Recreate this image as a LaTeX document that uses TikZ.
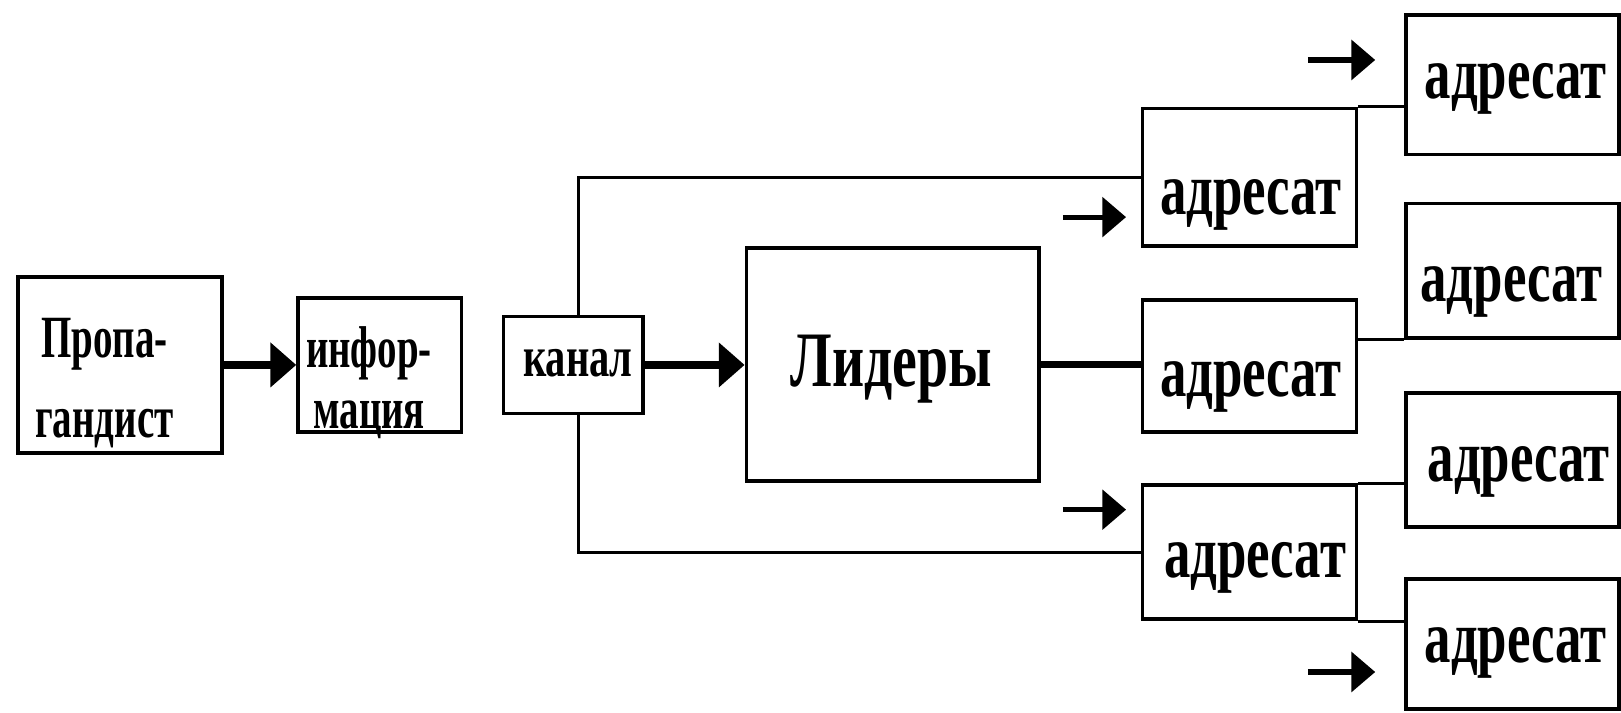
\documentclass[tikz,border=0pt]{standalone}
\usepackage{fontspec}
\setmainfont{Liberation Serif}
\usepackage{graphicx}
\usetikzlibrary{arrows.meta}
\newcommand\cnd[2][0.7]{\scalebox{#1}[1]{#2}}
\begin{document}
\begin{tikzpicture}[x=1pt,y=-1pt,
  box/.style={draw, line width=3.5pt, inner sep=0pt},
  adr/.style={box, minimum width=207pt},
  radr/.style={box, minimum width=206pt},
  txt/.style={inner sep=0pt, anchor=base},
  adrtxt/.style={txt, font=\bfseries\fontsize{72}{76}\selectfont},
  bigarrow/.style={line width=7pt, -{Triangle[length=25pt,width=42pt]}},
  smallarrow/.style={line width=5pt, -{Triangle[length=23pt,width=38pt]}},
  thinline/.style={line width=3pt},
  thickline/.style={line width=7pt}
]
\useasboundingbox (0,0) rectangle (1568,689);
\fill[white] (0,0) rectangle (1568,689);

% boxes
\node[box, minimum width=197pt, minimum height=170pt] (prop) at (116,353) {};
\node[box, minimum width=158pt, minimum height=130pt] (info) at (367.3,353) {};
\node[box, minimum width=135pt, minimum height=94pt] (kanal) at (554.5,353) {};
\node[box, minimum width=283pt, minimum height=225pt] (lid) at (863.5,352.5) {};

\node[adr, minimum height=133pt] (a1) at (1208.5,171.5) {};
\node[adr, minimum height=128pt] (a2) at (1208.5,354) {};
\node[adr, minimum height=130pt] (a3) at (1208.5,534) {};

\node[radr, minimum height=135pt] (r1) at (1463,82) {};
\node[radr, minimum height=130pt] (r2) at (1463,262) {};
\node[radr, minimum height=130pt] (r3) at (1463,445) {};
\node[radr, minimum height=126pt] (r4) at (1463,623) {};

% texts (base = baseline of the last line)
\node[txt, align=center,
  font=\bfseries\fontsize{58}{77.5}\selectfont] (propt) at (101,423.5)
  {\cnd[0.65]{Пропа-}\\\cnd[0.65]{гандист}};
\node[txt, align=center,
  font=\bfseries\fontsize{57}{59}\selectfont] (infot) at (357,414)
  {\cnd[0.66]{инфор-}\\\cnd[0.66]{мация}};
\node[txt, font=\bfseries\fontsize{56}{60}\selectfont] (kanalt) at (559,364) {\cnd[0.7]{канал}};
\node[txt, font=\bfseries\fontsize{76}{80}\selectfont] (lidt) at (862,374) {\cnd[0.71]{Лидеры}};

\node[adrtxt] (a1t) at (1210,207) {\cnd[0.71]{адресат}};
\node[adrtxt] (a2t) at (1210,384) {\cnd[0.71]{адресат}};
\node[adrtxt] (a3t) at (1214,559) {\cnd[0.71]{адресат}};
\node[adrtxt] (r1t) at (1466,95) {\cnd[0.71]{адресат}};
\node[adrtxt] (r2t) at (1462,292) {\cnd[0.71]{адресат}};
\node[adrtxt] (r3t) at (1469,466) {\cnd[0.71]{адресат}};
\node[adrtxt] (r4t) at (1466,641) {\cnd[0.71]{адресат}};

% connectors
\draw[bigarrow] (prop.east) -- (prop.east -| info.west);
\draw[bigarrow] (kanal.east) -- (kanal.east -| lid.west);
\draw[thickline] (lid.east) -- (lid.east -| a2.west);

\draw[thinline] ([xshift=5pt]kanal.north) |- (a1.west);
\draw[thinline] ([xshift=5pt]kanal.south) |- (a3.west);

\draw[thinline] (a1.north east) -- (a1.north east -| r1.west);
\draw[thinline] (a2.east |- r2.south) -- (r2.south west);
\draw[thinline] (a3.north east) -- (a3.north east -| r3.west);
\draw[thinline] (a3.south east) -- (a3.south east -| r4.west);

\coordinate (s0) at (1265,58);
\coordinate (s1) at (1028,210);
\coordinate (s3) at (1028,493);
\coordinate (s4) at (1265,650);
\draw[smallarrow, shorten >=28pt] (s0) -- (s0 -| r1.west);
\draw[smallarrow, shorten >=14pt] (s1) -- (s1 -| a1.west);
\draw[smallarrow, shorten >=14pt] (s3) -- (s3 -| a3.west);
\draw[smallarrow, shorten >=28pt] (s4) -- (s4 -| r4.west);
\end{tikzpicture}
\end{document}
